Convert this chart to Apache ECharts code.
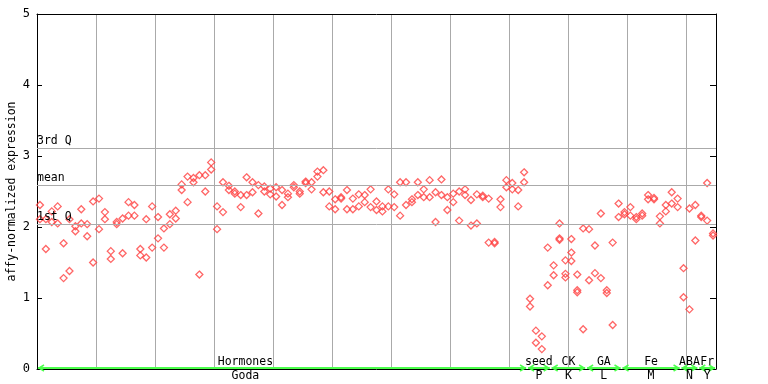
<!DOCTYPE html>
<html><head><meta charset="utf-8">
<script src="https://cdn.jsdelivr.net/npm/echarts@6/dist/echarts.min.js"></script>
<style>html,body{margin:0;padding:0;background:#fff}#c{width:768px;height:384px}</style>
</head><body><div id="c"></div>
<script>
// replicate values per sample (sample index = array position)
const rep1 = [2.31,1.69,2.22,2.29,1.77,1.38,2.01,2.25,2.04,2.36,2.40,2.21,1.66,2.07,2.12,2.35,2.31,1.69,2.11,2.29,
  2.14,1.98,2.18,2.23,2.60,2.71,2.69,2.73,2.73,2.91,2.29,2.63,2.58,2.50,2.45,2.70,2.63,2.59,2.57,2.54,
  2.56,2.52,2.47,2.59,2.50,2.64,2.63,2.78,2.80,2.50,2.39,2.42,2.52,2.40,2.46,2.45,2.53,2.36,2.29,2.53,
  2.46,2.63,2.63,2.39,2.63,2.53,2.66,2.49,2.67,2.42,2.47,2.50,2.53,2.38,2.46,2.44,2.40,1.79,2.39,2.66,
  2.62,2.52,2.77,0.99,0.54,0.46,1.71,1.46,2.05,1.53,1.83,1.33,1.98,1.97,1.74,2.19,1.11,1.78,2.33,2.21,
  2.28,2.14,2.19,2.45,2.41,2.15,2.31,2.49,2.40,1.42,2.26,2.31,2.16,2.62,1.91];
const rep2 = [2.11,2.11,2.07,2.05,1.28,2.11,1.94,2.05,1.87,1.50,1.97,2.11,1.55,2.04,1.63,2.16,2.16,1.60,1.57,1.71,
  1.84,1.71,2.04,2.12,2.52,2.35,2.63,1.33,2.50,2.81,1.97,2.21,2.52,2.47,2.28,2.45,2.49,2.19,2.50,2.46,
  2.43,2.31,2.42,2.56,2.47,2.62,2.53,2.71,2.49,2.29,2.25,2.40,2.25,2.25,2.29,2.35,2.28,2.24,2.22,2.29,
  2.28,2.16,2.31,2.35,2.45,2.42,2.42,2.07,2.45,2.24,2.35,2.09,2.45,2.02,2.05,2.42,1.78,1.77,2.28,2.56,
  2.53,2.29,2.63,0.88,0.37,0.28,1.18,1.32,1.84,1.29,1.64,1.11,0.56,1.25,1.35,1.28,1.07,0.62,2.14,2.18,
  2.16,2.11,2.16,2.39,2.39,2.05,2.22,2.33,2.28,1.01,0.84,1.81,2.14,2.09,1.88];
const extraIdx = [88, 89, 90, 91];
const extraVal = [1.82, 1.34, 1.52, 1.08];
const quartileNames = ['3rd Q', 'mean', '1st Q'];
const quartileVals = [3.108, 2.587, 2.042];
const sectionTop = ['Hormones', 'seed', 'CK', 'GA', 'Fe', 'ABA', 'Fr'];
const sectionBottom = ['Goda', 'P', 'K', 'L', 'M', 'N', 'Y'];
const sectionStart = [0, 83, 87, 93, 99, 109, 112];
const sectionEnd = [83, 87, 93, 99, 109, 112, 115];
const nSamples = rep1.length;

const FONT = 'DejaVu Sans Mono';
const pts = [];
rep1.forEach((v, i) => pts.push([i + 0.5, v]));
rep2.forEach((v, i) => pts.push([i + 0.5, v]));
extraIdx.forEach((k, j) => pts.push([k + 0.5, extraVal[j]]));

const chart = echarts.init(document.getElementById('c'), null, {renderer: 'canvas'});
chart.setOption({
  animation: false,
  backgroundColor: '#fff',
  grid: {left: 37, right: 52, top: 14, bottom: 15, containLabel: false, outerBoundsMode: 'none'},
  xAxis: [{
    type: 'value', min: 0, max: nSamples, interval: 10, position: 'bottom',
    axisLine: {show: true, onZero: false, lineStyle: {color: '#000', width: 1}},
    axisTick: {show: false}, axisLabel: {show: false},
    splitLine: {show: true, lineStyle: {color: '#aaaaaa', width: 1}}
  }, {
    type: 'value', min: 0, max: nSamples, position: 'top',
    axisLine: {show: true, onZero: false, lineStyle: {color: '#000', width: 1}},
    axisTick: {show: false}, axisLabel: {show: false}, splitLine: {show: false}
  }],
  yAxis: [{
    type: 'value', min: 0, max: 5, interval: 1, position: 'left',
    name: 'affy-normalized expression', nameLocation: 'middle', nameGap: 19, nameMoveOverlap: false,
    nameTextStyle: {color: '#000', fontFamily: FONT, fontSize: 11.5},
    axisLine: {show: true, onZero: false, lineStyle: {color: '#000', width: 1}},
    axisTick: {show: true, inside: true, length: 5, lineStyle: {color: '#000'}},
    axisLabel: {color: '#000', fontFamily: FONT, fontSize: 12, margin: 7},
    splitLine: {show: false}
  }, {
    type: 'value', min: 0, max: 5, interval: 1, position: 'right',
    axisLine: {show: true, onZero: false, lineStyle: {color: '#000', width: 1}},
    axisTick: {show: true, inside: true, length: 6, lineStyle: {color: '#000'}},
    axisLabel: {show: false}, splitLine: {show: false}
  }],
  series: [{
    type: 'scatter', data: pts, symbol: 'diamond', symbolSize: 7,
    itemStyle: {color: 'rgba(255,255,255,0)', borderColor: '#ff4040', borderWidth: 1.3},
    emphasis: {disabled: true}, silent: true,
    markLine: {
      silent: true, symbol: 'none', animation: false,
      lineStyle: {color: '#aaaaaa', width: 1, type: 'solid'},
      label: {position: 'insideStartTop', formatter: '{b}', color: '#000', fontFamily: FONT, fontSize: 11.5, distance: [0, 1]},
      data: quartileNames.map((n, k) => ({name: n, yAxis: quartileVals[k]}))
    }
  }]
});

// section annotations along the x axis
const g = [];
const GREEN = '#4cff4c';
sectionTop.forEach((name, k) => {
  const p0 = chart.convertToPixel({xAxisIndex: 0, yAxisIndex: 0}, [sectionStart[k], 0]);
  const p1 = chart.convertToPixel({xAxisIndex: 0, yAxisIndex: 0}, [sectionEnd[k], 0]);
  const y = p0[1] - 1;
  const x0 = p0[0] + 1, x1 = p1[0] - 1;
  g.push({type: 'line', shape: {x1: x0, y1: y, x2: x1, y2: y}, style: {stroke: GREEN, lineWidth: 2}, z: 10});
  g.push({type: 'polyline', shape: {points: [[x0 + 6, y - 3], [x0 + 1, y], [x0 + 6, y + 3]]}, style: {stroke: GREEN, lineWidth: 1.5, fill: null}, z: 10});
  g.push({type: 'polyline', shape: {points: [[x1 - 6, y - 3], [x1 - 1, y], [x1 - 6, y + 3]]}, style: {stroke: GREEN, lineWidth: 1.5, fill: null}, z: 10});
  const mid = k === 0 ? chart.convertToPixel({xAxisIndex: 0}, 35.3) : (p0[0] + p1[0]) / 2;
  g.push({type: 'text', x: mid, y: y - 6, style: {text: name, fill: '#000', font: '11.5px ' + FONT, align: 'center', verticalAlign: 'middle'}, z: 11});
  g.push({type: 'text', x: mid, y: y + 8, style: {text: sectionBottom[k], fill: '#000', font: '11.5px ' + FONT, align: 'center', verticalAlign: 'middle'}, z: 11});
});
chart.setOption({graphic: g});
</script></body></html>
